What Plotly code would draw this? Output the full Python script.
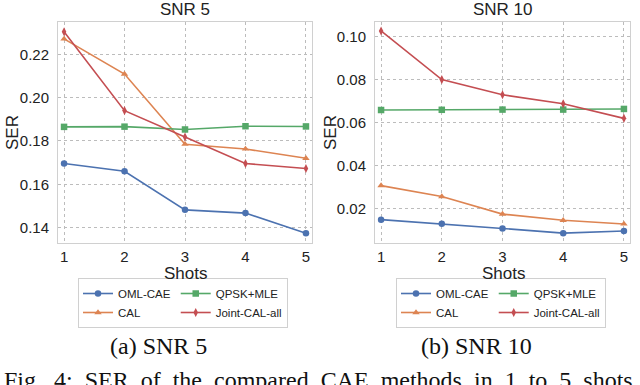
import plotly.graph_objects as go

W, H = 640, 385

shots = [1, 2, 3, 4, 5]

# SNR 5
oml_5 = [0.1696, 0.1660, 0.1482, 0.1467, 0.1374]
qpsk_5 = [0.1865, 0.1866, 0.1853, 0.1868, 0.1867]
cal_5 = [0.2271, 0.2109, 0.1785, 0.1763, 0.1720]
joint_5 = [0.2304, 0.1940, 0.1818, 0.1696, 0.1673]

# SNR 10
oml_10 = [0.0147, 0.0128, 0.0106, 0.0084, 0.0094]
qpsk_10 = [0.0659, 0.0660, 0.0661, 0.0661, 0.0664]
cal_10 = [0.0306, 0.0255, 0.0173, 0.0144, 0.0127]
joint_10 = [0.1028, 0.0801, 0.0730, 0.0688, 0.0620]

names = ["OML-CAE", "CAL", "QPSK+MLE", "Joint-CAL-all"]
colors = ["#4C72B0", "#DD8452", "#55A868", "#C44E52"]
symbols = ["circle", "triangle-up", "square", "diamond-tall"]
groups = ["a", "a", "b", "b"]  # legend columns

caption = "Fig. 4: SER of the compared CAE methods in 1 to 5 shots"

def px_x(p):
    return p / W

def px_y(p):
    return 1 - p / H

fig = go.Figure()

panels = [
    ([oml_5, cal_5, qpsk_5, joint_5], "x", "y", "legend", "5"),
    ([oml_10, cal_10, qpsk_10, joint_10], "x2", "y2", "legend2", "10"),
]
for series, xa, ya, lg, tag in panels:
    for vals, name, c, s, g in zip(series, names, colors, symbols, groups):
        fig.add_trace(go.Scatter(
            x=shots, y=vals, name=name, mode="lines+markers",
            line=dict(color=c, width=1.6),
            marker=dict(symbol=s, size=6.5, color=c),
            xaxis=xa, yaxis=ya, legend=lg, legendgroup=g + tag,
        ))

axis_common = dict(
    showgrid=True, gridcolor="#bcbcbc", griddash="dot", gridwidth=1,
    showline=True, linecolor="#d0d0d0", linewidth=1, mirror=True,
    zeroline=False, ticks="", automargin=False,
    tickfont=dict(family="Liberation Sans", size=15, color="#222"),
)

fig.update_layout(
    width=W, height=H,
    margin=dict(l=0, r=0, t=0, b=0),
    paper_bgcolor="white", plot_bgcolor="white",
    xaxis=dict(domain=[px_x(58), px_x(312)], range=[0.9, 5.1], tickvals=shots,
               anchor="y", ticklabelstandoff=0, **axis_common),
    yaxis=dict(domain=[px_y(243), px_y(22)], range=[0.1329, 0.2349],
               tickvals=[0.14, 0.16, 0.18, 0.20, 0.22], ticktext=["0.14", "0.16", "0.18", "0.20", "0.22"],
               anchor="x", ticklabelstandoff=5, **axis_common),
    xaxis2=dict(domain=[px_x(375), px_x(630)], range=[0.9, 5.1], tickvals=shots,
                anchor="y2", ticklabelstandoff=0, **axis_common),
    yaxis2=dict(domain=[px_y(243), px_y(22)], range=[0.0038, 0.107],
                tickvals=[0.02, 0.04, 0.06, 0.08, 0.10], ticktext=["0.02", "0.04", "0.06", "0.08", "0.10"],
                anchor="x2", ticklabelstandoff=5, **axis_common),
    showlegend=True,
)

legend_common = dict(
    orientation="h", xanchor="left", yanchor="top", xref="paper", yref="paper",
    traceorder="grouped", tracegroupgap=8, itemwidth=30,
    bordercolor="#d0d0d0", borderwidth=1, bgcolor="white",
    font=dict(family="Liberation Sans", size=11.5, color="#222"),
)
fig.update_layout(
    legend=dict(x=px_x(78), y=px_y(278), **legend_common),
    legend2=dict(x=px_x(396), y=px_y(278), **legend_common),
)

sans = dict(family="Liberation Sans", size=17, color="#222")
serif = dict(family="Liberation Serif", size=24, color="#111")
texts = [
    ("SNR 5", 185, 9, sans, 0),
    ("SNR 10", 503, 9, sans, 0),
    ("Shots", 185, 273, sans, 0),
    ("Shots", 503, 273, sans, 0),
    ("SER", 12, 133, sans, -90),
    ("SER", 330, 133, sans, -90),
    ("(a) SNR 5", 158, 346, serif, 0),
    ("(b) SNR 10", 476, 346, serif, 0),
]
for t, x, y, f, ang in texts:
    fig.add_annotation(text=t, x=px_x(x), y=px_y(y), xref="paper", yref="paper",
                       xanchor="center", yanchor="middle", showarrow=False, font=f,
                       textangle=ang)

# justified caption line: widen the word gaps a little
fig.add_annotation(text=caption.replace(" ", " \u00a0"),
                   x=px_x(2), y=px_y(380), xref="paper", yref="paper",
                   xanchor="left", yanchor="middle", showarrow=False, font=serif)

# drop the default body margin so the figure sits at the window corner
fig.write_html("out.html", config={"displayModeBar": False},
               post_script="document.body.style.margin='0';")
